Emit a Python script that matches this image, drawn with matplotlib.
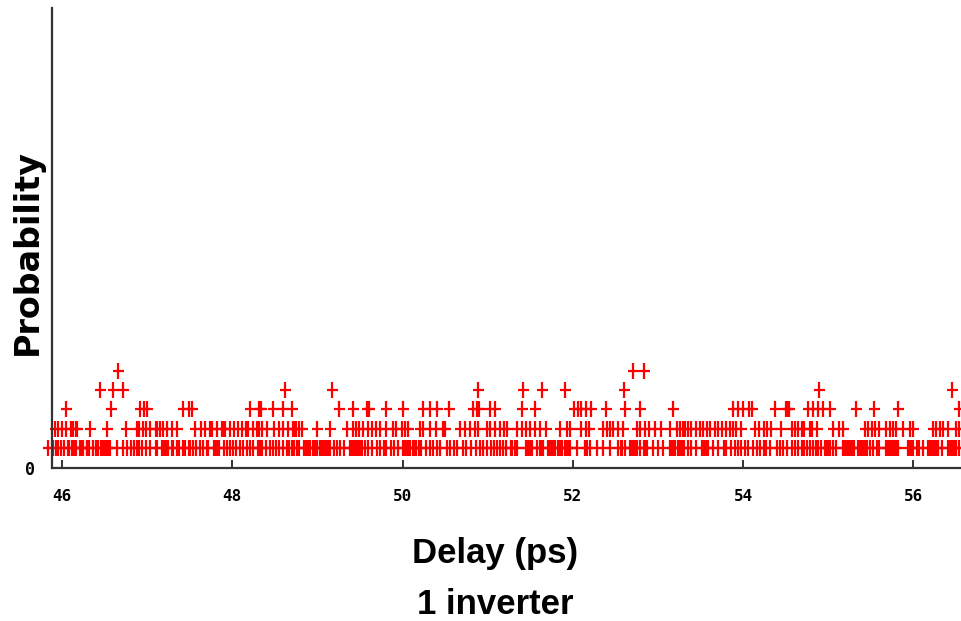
import matplotlib
matplotlib.use("Agg")
import matplotlib.pyplot as plt
from matplotlib.path import Path

# delay values (ps) grouped by how many samples landed in that bin
count_levels = [1, 2, 3, 4, 5]

delay_lvl1 = [
    45.84, 45.90, 45.93, 45.96, 45.99, 46.03, 46.07, 46.08, 46.12, 46.14,
    46.16, 46.21, 46.22, 46.24, 46.25, 46.29, 46.30, 46.32, 46.37, 46.40,
    46.43, 46.46, 46.48, 46.51, 46.53, 46.55, 46.57, 46.65, 46.72, 46.77,
    46.81, 46.85, 46.88, 46.91, 46.94, 46.99, 47.04, 47.10, 47.12, 47.17,
    47.20, 47.22, 47.25, 47.29, 47.31, 47.35, 47.38, 47.42, 47.45, 47.49,
    47.51, 47.54, 47.58, 47.62, 47.66, 47.70, 47.72, 47.79, 47.81, 47.83,
    47.85, 47.90, 47.94, 47.98, 48.01, 48.05, 48.09, 48.13, 48.17, 48.21,
    48.25, 48.30, 48.32, 48.33, 48.35, 48.40, 48.44, 48.48, 48.52, 48.55,
    48.60, 48.64, 48.67, 48.70, 48.73, 48.76, 48.79, 48.84, 48.86, 48.88,
    48.90, 48.91, 48.95, 48.97, 48.99, 49.00, 49.03, 49.06, 49.08, 49.10,
    49.12, 49.15, 49.19, 49.23, 49.27, 49.31, 49.38, 49.40, 49.42, 49.44,
    49.46, 49.48, 49.50, 49.52, 49.56, 49.60, 49.64, 49.70, 49.74, 49.78,
    49.81, 49.86, 49.90, 49.95, 50.00, 50.02, 50.04, 50.06, 50.09, 50.12,
    50.14, 50.16, 50.19, 50.22, 50.28, 50.32, 50.36, 50.40, 50.44, 50.52,
    50.56, 50.60, 50.64, 50.71, 50.75, 50.81, 50.86, 50.91, 50.95, 50.99,
    51.04, 51.07, 51.11, 51.15, 51.18, 51.22, 51.27, 51.29, 51.32, 51.34,
    51.45, 51.47, 51.50, 51.52, 51.58, 51.61, 51.63, 51.65, 51.71, 51.73,
    51.75, 51.77, 51.79, 51.83, 51.85, 51.87, 51.91, 51.93, 51.95, 51.97,
    52.05, 52.14, 52.17, 52.20, 52.28, 52.36, 52.44, 52.53, 52.56, 52.58,
    52.61, 52.67, 52.69, 52.71, 52.73, 52.75, 52.79, 52.83, 52.85, 52.87,
    52.94, 53.00, 53.06, 53.14, 53.16, 53.18, 53.20, 53.24, 53.26, 53.28,
    53.30, 53.35, 53.39, 53.45, 53.52, 53.54, 53.56, 53.59, 53.65, 53.71,
    53.77, 53.80, 53.86, 53.90, 53.94, 53.98, 54.02, 54.06, 54.11, 54.16,
    54.20, 54.24, 54.27, 54.31, 54.40, 54.43, 54.47, 54.51, 54.57, 54.61,
    54.65, 54.69, 54.72, 54.75, 54.78, 54.82, 54.85, 54.88, 54.91, 54.96,
    54.98, 55.00, 55.02, 55.06, 55.09, 55.17, 55.19, 55.21, 55.23, 55.25,
    55.26, 55.28, 55.30, 55.35, 55.37, 55.39, 55.41, 55.43, 55.45, 55.49,
    55.53, 55.57, 55.60, 55.68, 55.69, 55.71, 55.73, 55.75, 55.77, 55.79,
    55.82, 55.94, 55.96, 55.98, 56.00, 56.04, 56.07, 56.11, 56.17, 56.19,
    56.21, 56.23, 56.25, 56.27, 56.29, 56.33, 56.41, 56.43, 56.45, 56.47,
    56.49, 56.50, 56.54,
]

delay_lvl2 = [
    45.92, 45.96, 46.00, 46.05, 46.11, 46.13, 46.16, 46.18, 46.33, 46.53,
    46.75, 46.88, 46.91, 46.95, 46.99, 47.04, 47.10, 47.12, 47.15, 47.19,
    47.24, 47.29, 47.35, 47.56, 47.63, 47.68, 47.74, 47.76, 47.82, 47.88,
    47.90, 47.92, 47.98, 48.02, 48.07, 48.11, 48.16, 48.18, 48.25, 48.29,
    48.32, 48.35, 48.41, 48.49, 48.55,
    48.60, 48.66, 48.71, 48.73, 48.75, 48.79, 48.82, 48.99, 49.15, 49.35,
    49.42, 49.45, 49.49, 49.54, 49.60, 49.64, 49.69, 49.74, 49.81, 49.89,
    49.92, 49.99, 50.03, 50.06, 50.21, 50.24, 50.32, 50.39, 50.48, 50.50,
    50.67, 50.73, 50.79, 50.85, 50.89, 50.99, 51.03, 51.09, 51.14, 51.19,
    51.23,
    51.35, 51.40, 51.45, 51.50, 51.55, 51.61, 51.69, 51.85, 51.93, 51.97,
    52.10, 52.15, 52.19, 52.36, 52.40, 52.44, 52.47, 52.53, 52.59, 52.75,
    52.79, 52.85, 52.90, 52.96, 53.04, 53.14, 53.22, 53.26, 53.29, 53.32,
    53.35, 53.39, 53.45, 53.49, 53.53, 53.57, 53.61, 53.67, 53.71, 53.75,
    53.80, 53.84, 53.88, 53.92,
    53.98, 54.14, 54.19, 54.24, 54.28, 54.33, 54.45, 54.57, 54.61, 54.65,
    54.69, 54.72, 54.78, 54.81, 54.87, 55.06, 55.12, 55.17, 55.43, 55.47,
    55.51, 55.55, 55.60, 55.68, 55.72, 55.76, 55.80, 55.88, 55.96, 55.99,
    56.23, 56.27, 56.31, 56.35, 56.41, 56.50, 56.54,
]

delay_lvl3 = [
    46.05, 46.58, 46.92, 46.97, 47.00, 47.42, 47.49, 47.53, 48.21, 48.31,
    48.34, 48.48, 48.60, 48.70, 49.25, 49.42, 49.58, 49.61, 49.81, 50.01,
    50.24, 50.32, 50.40, 50.55, 50.83, 50.88, 50.90, 51.03, 51.09, 51.40,
    51.55, 52.01, 52.06, 52.10, 52.15, 52.21, 52.39, 52.61, 52.79, 53.18,
    53.88, 53.94, 54.00, 54.07, 54.10, 54.37, 54.50, 54.52, 54.54, 54.76,
    54.82, 54.88, 54.94, 55.02, 55.32, 55.54, 55.82, 56.54,
]

delay_lvl4 = [46.45, 46.60, 46.72, 48.62, 49.17, 50.89, 51.41, 51.64,
              51.91, 52.60, 54.89, 56.45]

delay_lvl5 = [46.66, 52.71, 52.83]

xtick_vals = [46, 48, 50, 52, 54, 56]

# plus sign that is a bit taller than wide, like the original plot
tall_plus = Path([(-0.36, 0), (0.36, 0), (0, -0.5), (0, 0.5)],
                 [Path.MOVETO, Path.LINETO, Path.MOVETO, Path.LINETO])

fig = plt.figure(figsize=(9.62, 6.21), dpi=100)
ax = fig.add_axes([0.0537, 0.2469, 0.9463, 0.7402])

groups = [delay_lvl1, delay_lvl2, delay_lvl3, delay_lvl4, delay_lvl5]
for lvl, xs in zip(count_levels, groups):
    ax.plot(xs, [lvl] * len(xs), linestyle="none", marker=tall_plus,
            color="#ff0000", markersize=11, markeredgewidth=1.6,
            clip_on=False)

ax.set_xlim(45.88, 56.57)
ax.set_ylim(0, 23.7)

for side in ["top", "right"]:
    ax.spines[side].set_visible(False)
for side in ["left", "bottom"]:
    ax.spines[side].set_color("#333333")
    ax.spines[side].set_linewidth(1.6)

ax.set_xticks(xtick_vals)
ax.set_xticklabels([str(v) for v in xtick_vals], family="DejaVu Sans Mono",
                   fontweight="bold", fontsize=11.5)
ax.set_yticks([0])
ax.set_yticklabels(["0"], family="DejaVu Sans Mono", fontweight="bold",
                   fontsize=12)
ax.tick_params(axis="x", direction="in", length=6, width=1.4,
               color="#333333", pad=15)
ax.tick_params(axis="y", length=0, pad=12)

lab_font = ["Liberation Sans", "DejaVu Sans"]
fig.text(0.515, 0.109, "Delay (ps)", ha="center", va="center",
         fontsize=25, fontweight="bold", family=lab_font)
fig.text(0.515, 0.026, "1 inverter", ha="center", va="center",
         fontsize=25, fontweight="bold", family=lab_font)
fig.text(0.028, 0.594, "Probability", ha="center", va="center",
         rotation=90, fontsize=24, fontweight="bold", family="DejaVu Sans")

fig.savefig("out.png", dpi=100)
